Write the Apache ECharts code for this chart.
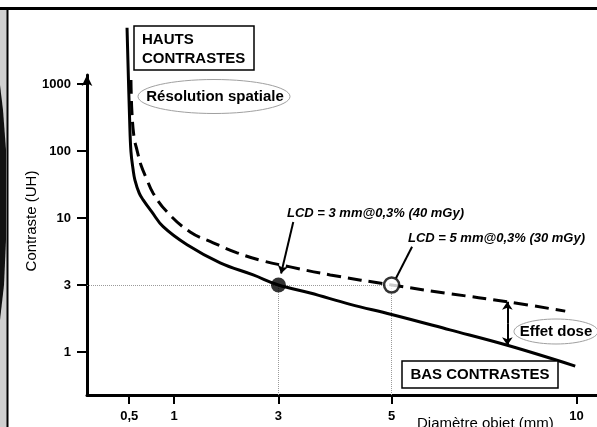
<!DOCTYPE html>
<html>
<head>
<meta charset="utf-8">
<script src="https://cdn.jsdelivr.net/npm/echarts@6/dist/echarts.min.js"></script>
<style>
  html, body { margin: 0; padding: 0; background: #fff; }
  #main { width: 597px; height: 427px; }
</style>
</head>
<body>
<div id="main"></div>
<script>
// schematic axes: ticks are not on a true linear/log scale, so values are
// stored in "graduation" units of the drawing, ticks placed at these units
const xTickLabels = ["0,5", "1", "3", "5", "10"];
const xTickPos = [0.97, 2, 4.4, 7, 11.25];
const yTickLabels = ["1", "3", "10", "100", "1000"];
const yTickPos = [0, 1, 2, 3, 4];

// solid curve (higher dose)
const solidX = [0.92, 0.94, 0.98, 1.01, 1.06, 1.10, 1.20, 1.29, 1.49, 1.75, 2.30, 3.06, 3.82, 4.40, 5.13, 6.05, 7.00, 8.34, 9.66, 11.22];
const solidY = [4.84, 4.36, 3.46, 2.99, 2.72, 2.57, 2.37, 2.27, 2.09, 1.87, 1.60, 1.33, 1.15, 1.00, 0.88, 0.71, 0.56, 0.33, 0.10, -0.21];

// dashed curve (lower dose)
const dashX = [1.01, 1.03, 1.08, 1.15, 1.24, 1.36, 1.52, 1.84, 2.37, 2.90, 3.45, 3.98, 4.67, 5.59, 7.00, 8.34, 9.66, 10.99];
const dashY = [4.06, 3.61, 3.21, 3.01, 2.79, 2.60, 2.37, 2.09, 1.79, 1.63, 1.48, 1.37, 1.27, 1.15, 1.00, 0.87, 0.75, 0.61];

// LCD points
const lcd40 = [4.4, 1];
const lcd30 = [7, 1];

const FONT = "Liberation Sans, Arial, sans-serif";
const xMin = 0, xMax = 11.72;
const yMin = -0.642, yMax = 4.134;

const zip = (a, b) => a.map((v, i) => [v, b[i]]);
const tickLabel = (pos, labels) => (v) => {
  let best = 0;
  pos.forEach((p, i) => { if (Math.abs(p - v) < Math.abs(pos[best] - v)) best = i; });
  return labels[best];
};

const dotted = { color: "#9a9a9a", type: "dotted", width: 1 };

var myChart = echarts.init(document.getElementById("main"));

var option = {
  animation: false,
  backgroundColor: "#fff",
  grid: { left: 87, right: 0, top: 75, bottom: 32 },
  xAxis: {
    type: "value",
    min: xMin,
    max: xMax,
    splitLine: { show: false },
    axisLine: { show: true, onZero: false, lineStyle: { color: "#000", width: 3 } },
    axisTick: { show: true, customValues: xTickPos, length: 9, lineStyle: { color: "#000", width: 2 } },
    axisLabel: {
      customValues: xTickPos,
      formatter: tickLabel(xTickPos, xTickLabels),
      color: "#000", fontWeight: "bold", fontSize: 13, fontFamily: FONT, margin: 15,
    },
  },
  yAxis: {
    type: "value",
    min: yMin,
    max: yMax,
    splitLine: { show: false },
    axisLine: {
      show: true, onZero: false, symbol: ["none", "arrow"], symbolSize: [8, 11],
      lineStyle: { color: "#000", width: 3 },
    },
    axisTick: { show: true, customValues: yTickPos, length: 10, lineStyle: { color: "#000", width: 2 } },
    axisLabel: {
      customValues: yTickPos,
      formatter: tickLabel(yTickPos, yTickLabels),
      color: "#000", fontWeight: "bold", fontSize: 13, fontFamily: FONT, margin: 16,
    },
    name: "Contraste (UH)",
    nameLocation: "middle",
    nameRotate: 90,
    nameGap: 48,
    nameMoveOverlap: false,
    nameTextStyle: { color: "#000", fontSize: 15, fontFamily: FONT, padding: [0, 0, 0, 28] },
  },
  series: [
    {
      type: "line",
      data: zip(solidX, solidY),
      smooth: 0.4,
      symbol: "none",
      clip: false,
      z: 4,
      lineStyle: { color: "#000", width: 3 },
      markLine: {
        silent: true,
        symbol: "none",
        label: { show: false },
        lineStyle: dotted,
        z: 1,
        data: [
          [{ coord: [xTickPos[0], yMin] }, { coord: [xTickPos[0], 4.8] }],
          [{ coord: [xMin, lcd40[1]] }, { coord: lcd30 }],
          [{ coord: [lcd40[0], yMin] }, { coord: lcd40 }],
          [{ coord: [lcd30[0], yMin] }, { coord: lcd30 }],
        ],
      },
    },
    {
      type: "line",
      data: zip(dashX, dashY),
      smooth: 0.4,
      symbol: "none",
      clip: false,
      z: 3,
      lineStyle: { color: "#000", width: 3, type: [14, 7] },
    },
    {
      type: "scatter",
      data: [lcd40],
      symbolSize: 15,
      z: 6,
      itemStyle: { color: "#000" },
      markLine: {
        silent: true,
        symbol: ["none", "arrow"],
        symbolSize: 8,
        label: { show: false },
        lineStyle: { color: "#000", width: 2, type: "solid" },
        data: [
          [{ coord: [4.74, 1.94] }, { coord: [4.46, 1.17] }],
          [{ coord: [9.66, 0.42], symbol: "none" }, { coord: [9.66, 0.75] }],
          [{ coord: [9.66, 0.42], symbol: "none" }, { coord: [9.66, 0.10] }],
        ],
      },
    },
    {
      type: "scatter",
      data: [lcd30],
      symbolSize: 15,
      z: 6,
      itemStyle: { color: "#fff", borderColor: "#000", borderWidth: 2.5 },
      markLine: {
        silent: true,
        symbol: "none",
        label: { show: false },
        lineStyle: { color: "#000", width: 2, type: "solid" },
        data: [[{ coord: [7.47, 1.57] }, { coord: [7.1, 1.1] }]],
      },
    },
  ],
  graphic: [
    // frame left over from the page the figure was cut from
    { type: "rect", shape: { x: 0, y: 9, width: 7, height: 418 }, style: { fill: "#cfcfcf" }, silent: true },
    { type: "polygon", shape: { points: [[0, 85], [3, 110], [6, 150], [6, 240], [4, 285], [0, 320]] }, style: { fill: "#111" }, silent: true },
    { type: "line", shape: { x1: 7.5, y1: 8, x2: 7.5, y2: 427 }, style: { stroke: "#000", lineWidth: 2 }, silent: true },
    { type: "line", shape: { x1: 0, y1: 8.5, x2: 597, y2: 8.5 }, style: { stroke: "#000", lineWidth: 3 }, silent: true },

    { type: "rect", shape: { x: 134, y: 26, width: 120, height: 44 }, style: { fill: "#fff", stroke: "#000", lineWidth: 1.5 }, z: 10 },
    { type: "text", x: 142, y: 40, z: 11, style: { text: "HAUTS", font: "bold 15px " + FONT, fill: "#000", verticalAlign: "middle" } },
    { type: "text", x: 142, y: 58.5, z: 11, style: { text: "CONTRASTES", font: "bold 15px " + FONT, fill: "#000", verticalAlign: "middle" } },

    { type: "ellipse", shape: { cx: 214, cy: 96.5, rx: 76, ry: 17 }, style: { fill: "#fff", stroke: "#a0a0a0", lineWidth: 1 }, z: 10 },
    { type: "text", x: 215, y: 97, z: 11, style: { text: "Résolution spatiale", font: "bold 15px " + FONT, fill: "#000", align: "center", verticalAlign: "middle" } },

    { type: "text", x: 287, y: 213, z: 11, style: { text: "LCD = 3 mm@0,3% (40 mGy)", font: "italic bold 13px " + FONT, fill: "#000", verticalAlign: "middle" } },
    { type: "text", x: 408, y: 238, z: 11, style: { text: "LCD = 5 mm@0,3% (30 mGy)", font: "italic bold 13px " + FONT, fill: "#000", verticalAlign: "middle" } },

    { type: "ellipse", shape: { cx: 556, cy: 331.5, rx: 42, ry: 12.5 }, style: { fill: "#fff", stroke: "#a0a0a0", lineWidth: 1 }, z: 10 },
    { type: "text", x: 556, y: 331.5, z: 11, style: { text: "Effet dose", font: "bold 15px " + FONT, fill: "#000", align: "center", verticalAlign: "middle" } },

    { type: "rect", shape: { x: 402, y: 361, width: 156, height: 27 }, style: { fill: "#fff", stroke: "#000", lineWidth: 1.5 }, z: 10 },
    { type: "text", x: 480, y: 375, z: 11, style: { text: "BAS CONTRASTES", font: "bold 15px " + FONT, fill: "#000", align: "center", verticalAlign: "middle" } },

    { type: "text", x: 417, y: 424, z: 11, style: { text: "Diamètre objet (mm)", font: "15px " + FONT, fill: "#000", verticalAlign: "middle" } },
  ],
};

myChart.setOption(option);
</script>
</body>
</html>
